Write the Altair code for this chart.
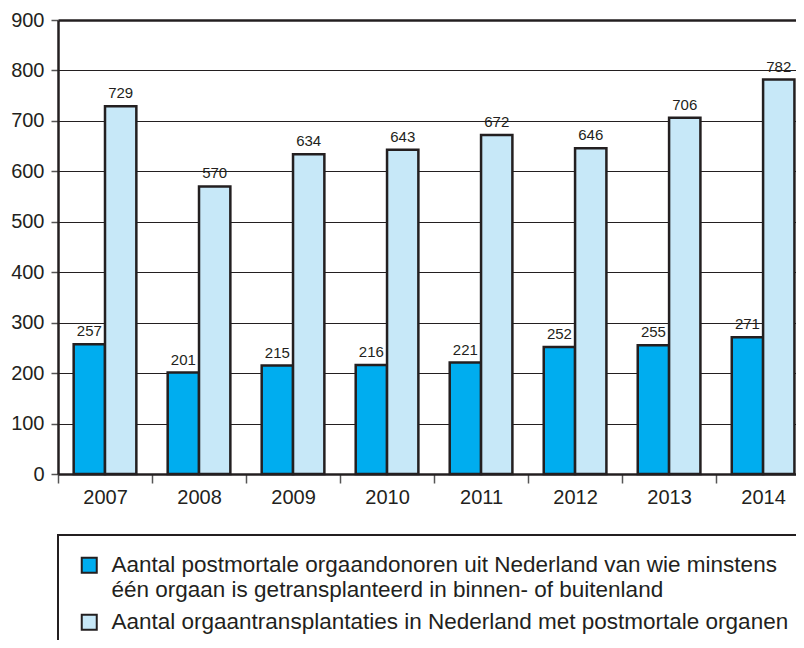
import altair as alt
import pandas as pd

years = [2007, 2008, 2009, 2010, 2011, 2012, 2013, 2014]
donors = [257, 201, 215, 216, 221, 252, 255, 271]
transplants = [729, 570, 634, 643, 672, 646, 706, 782]
series = [
    "Aantal postmortale orgaandonoren uit Nederland van wie minstens\néén orgaan is getransplanteerd in binnen- of buitenland",
    "Aantal orgaantransplantaties in Nederland met postmortale organen",
]
colors = ["#00ADEF", "#C7E8F8"]
y_ticks = [0, 100, 200, 300, 400, 500, 600, 700, 800, 900]

rows = []
for i, yr in enumerate(years):
    rows.append({"year": yr, "serie": series[0], "order": 0, "value": donors[i]})
    rows.append({"year": yr, "serie": series[1], "order": 1, "value": transplants[i]})
df = pd.DataFrame(rows)

FONT = "Liberation Sans"
INK = "#231F20"
HALF = 47.0

base = alt.Chart(df).transform_calculate(
    x0="datum.year - 1/3 + datum.order/3",
    x1="datum.year + datum.order/3",
    xm="datum.year - 1/6 + datum.order/3",
)

xscale = alt.Scale(domain=[2006.5, 2014.35], nice=False, zero=False)
yscale = alt.Scale(domain=[0, 900], nice=False)

bars = base.mark_bar(stroke=INK, strokeWidth=2.5).encode(
    x=alt.X("x0:Q", scale=xscale,
            axis=alt.Axis(values=years, format="d", title=None, grid=False,
                          tickOffset=-HALF, labelOffset=HALF,
                          tickSize=9, tickWidth=1.5, tickColor="#555555",
                          labelPadding=4, labelFontSize=20, labelFont=FONT,
                          labelColor=INK, domainColor=INK, domainWidth=2.5)),
    x2="x1:Q",
    y=alt.Y("value:Q", scale=yscale,
            axis=alt.Axis(values=y_ticks, title=None, grid=True,
                          gridColor=INK,
                          gridWidth={"condition": {"test": "datum.value == 900", "value": 2.5}, "value": 1.2},
                          tickSize=7, tickWidth=1.5, tickColor="#555555",
                          labelPadding=7, labelFontSize=20, labelFont=FONT,
                          labelColor=INK, domainColor=INK, domainWidth=2.5)),
    y2=alt.datum(0),
    color=alt.Color("serie:N",
                    scale=alt.Scale(domain=series, range=colors),
                    legend=alt.Legend(title=None, orient="none", legendX=0, legendY=515,
                                      direction="vertical", symbolType="square",
                                      symbolSize=225, symbolStrokeColor=INK,
                                      symbolStrokeWidth=2, symbolOpacity=1,
                                      symbolOffset=1,
                                      labelFontSize=22.5, labelFont=FONT, labelColor=INK,
                                      labelLimit=2000, labelOffset=11, padding=19,
                                      rowPadding=8, strokeColor=INK,
                                      labelExpr="split(datum.label, '\\n')")),
)

labels = base.mark_text(baseline="bottom", dy=-5, fontSize=15, font=FONT, color=INK).encode(
    x=alt.X("xm:Q", scale=xscale),
    y=alt.Y("value:Q", scale=yscale),
    text=alt.Text("value:Q", format="d"),
)

chart = alt.layer(bars, labels).properties(
    width=738,
    height=454,
    autosize=alt.AutoSizeParams(type="none"),
    padding={"left": 50, "top": 12, "right": 0, "bottom": 166},
).configure_view(strokeOpacity=0).configure_legend(strokeWidth=2)

chart.save("out.html", embed_options={"renderer": "svg", "actions": False})
